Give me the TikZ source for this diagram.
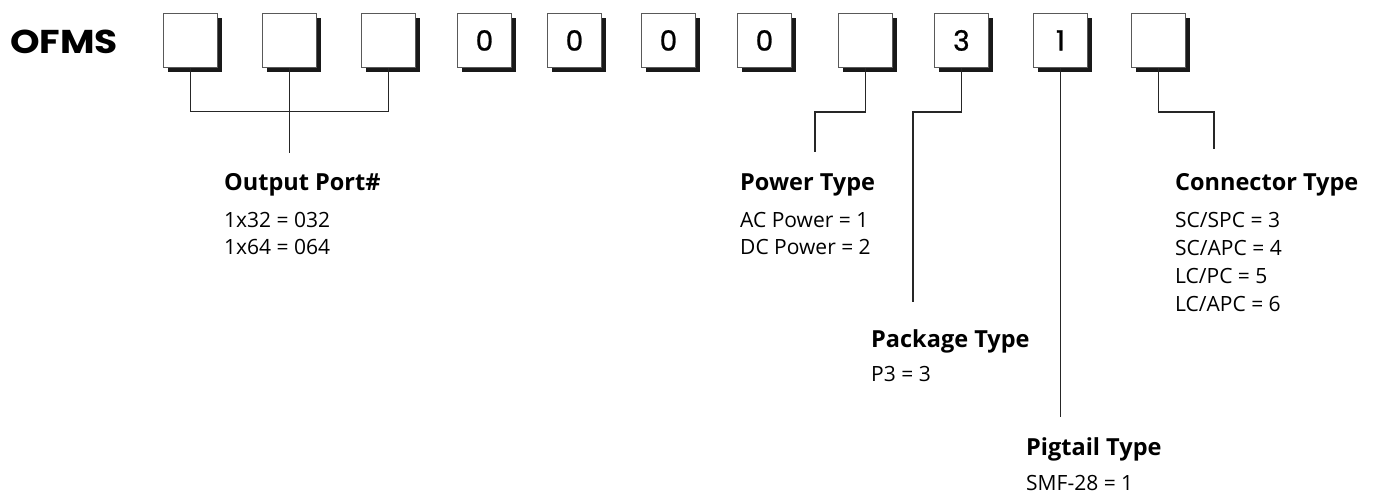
\documentclass[tikz,border=0pt]{standalone}
\usepackage{fontspec}
\setmainfont{Open Sans}
\newfontfamily\digfont{Poppins}
\newfontfamily\boxfont{Poppins}[FakeBold=0.9]
\begin{document}
\begin{tikzpicture}[x=1pt,y=-1pt,
  digbox/.style={draw=black!65,line width=0.9pt,fill=white,minimum width=54pt,minimum height=54pt,inner sep=0pt,anchor=north west,font=\boxfont\fontsize{28}{30}\selectfont},
  lead/.style={draw=black!85,line width=1.1pt},
  head/.style={anchor=base west,inner sep=0pt,font=\bfseries\fontsize{23.5}{25}\selectfont},
  item/.style={anchor=base west,inner sep=0pt,font=\fontsize{21}{23}\selectfont}]
\useasboundingbox (0,0) rectangle (1377,496);
\node[anchor=base west,inner sep=0pt,font=\digfont\bfseries\fontsize{33}{35}\selectfont] (ofms) at (10,53) {\scalebox{1.14}[1]{OFMS}};
\foreach \n/\x/\t in {b1/163/{},b2/262/{},b3/361/{},b4/457/0,b5/547/0,b6/641/0,b7/737/0,b8/838/{},b9/934/3,b10/1033/1,b11/1131/{}}{
  \fill[black!90] (\x+5,18) rectangle (\x+59,72);
  \node[digbox] (\n) at (\x,13) {\t};
}
% output port
\coordinate (op) at (293,153);
\draw[lead] (b1.south) -- ++(0,44) -| (b3.south);
\draw[lead] (b2.south) -- (b2.south |- op);
% power
\coordinate (pw) at (815,152);
\draw[lead] (b8.south) |- (pw |- 0,112) -- (pw);
% package
\coordinate (pk) at (913,302);
\draw[lead] (b9.south) |- (pk |- 0,112) -- (pk);
% pigtail
\coordinate (pg) at (b10.south |- 0,417);
\draw[lead] (b10.south) -- (pg);
% connector
\coordinate (cn) at (1214,149);
\draw[lead] (b11.south) |- (cn |- 0,112) -- (cn);
% labels
\node[head] (h1) at (224,190) {Output Port\#};
\node[item] (i11) at (224,227) {1x32 = 032};
\node[item] (i12) at (224,254) {1x64 = 064};
\node[head] (h2) at (740,190) {Power Type};
\node[item] (i21) at (740,227) {AC Power = 1};
\node[item] (i22) at (740,254) {DC Power = 2};
\node[head] (h3) at (1175,190) {Connector Type};
\node[item] (i31) at (1175,227) {SC/SPC = 3};
\node[item] (i32) at (1175,255) {SC/APC = 4};
\node[item] (i33) at (1175,283) {LC/PC = 5};
\node[item] (i34) at (1175,311) {LC/APC = 6};
\node[head] (h4) at (871,347) {Package Type};
\node[item] (i41) at (871,381) {P3 = 3};
\node[head] (h5) at (1026,455) {Pigtail Type};
\node[item] (i51) at (1026,490) {SMF-28 = 1};
\end{tikzpicture}
\end{document}
